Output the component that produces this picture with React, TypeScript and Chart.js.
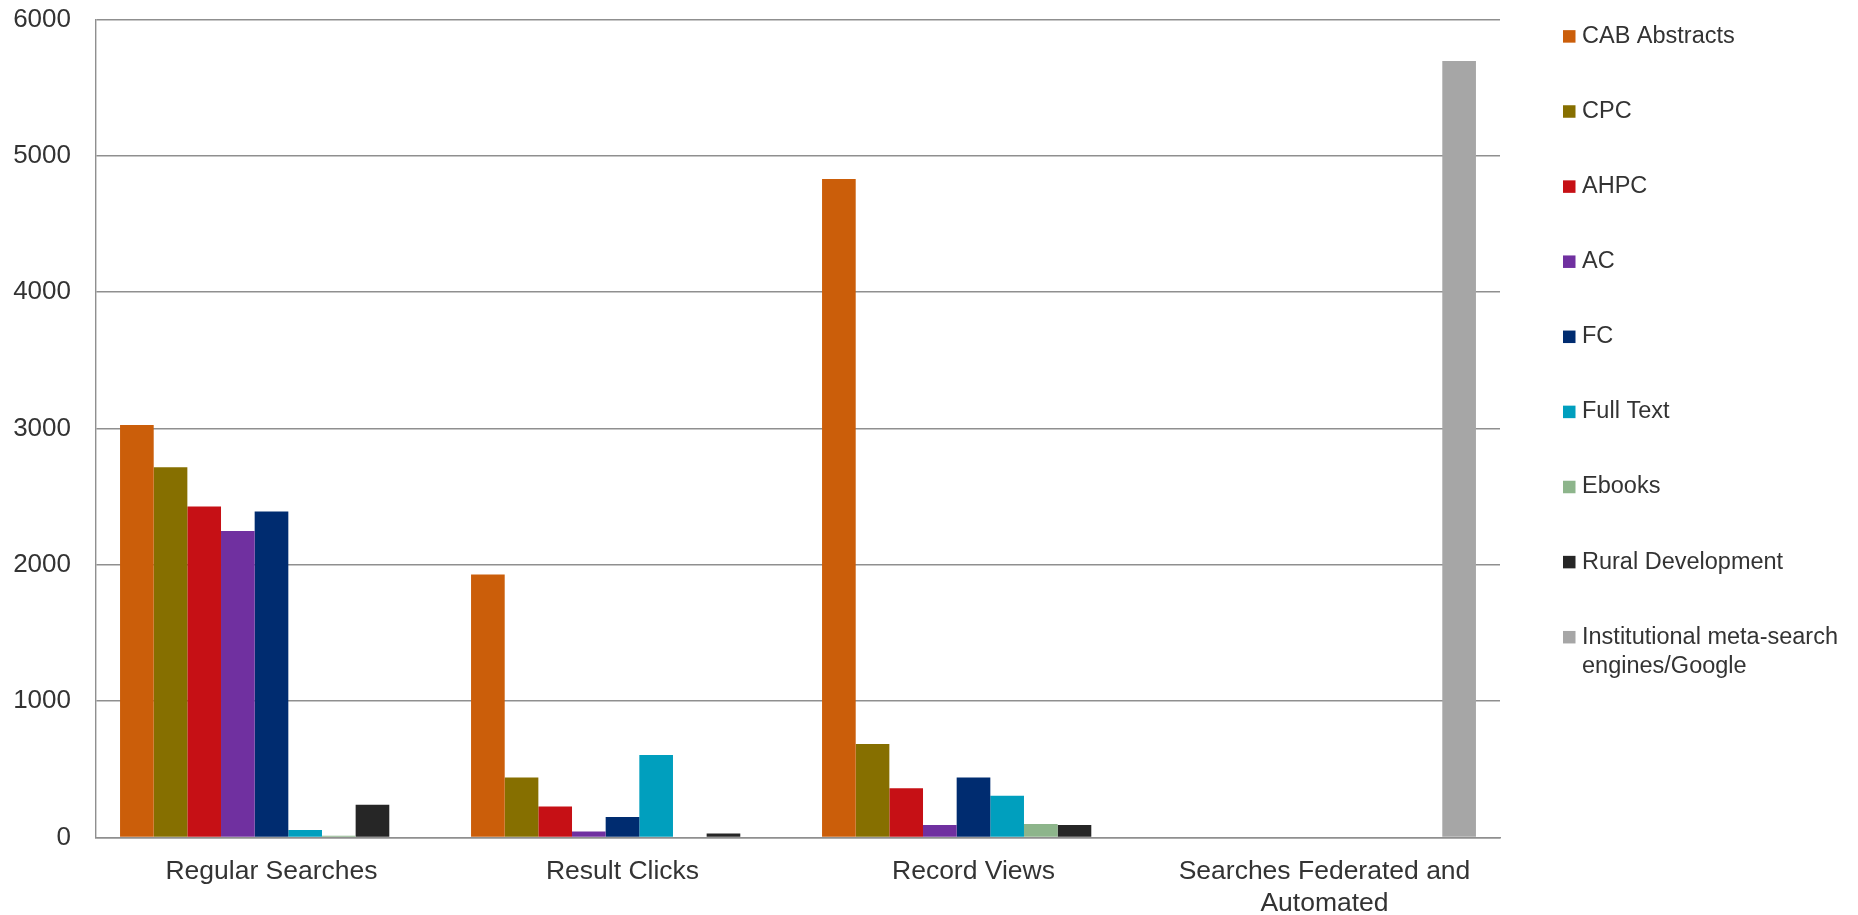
import React, { useEffect, useRef } from "react";
import { Chart, registerables } from "chart.js";

Chart.register(...registerables);

const categories: string[][] = [
  ["Regular Searches"],
  ["Result Clicks"],
  ["Record Views"],
  ["Searches Federated and", "Automated"],
];

const seriesNames = [
  "CAB Abstracts",
  "CPC",
  "AHPC",
  "AC",
  "FC",
  "Full Text",
  "Ebooks",
  "Rural Development",
  "Institutional meta-search engines/Google",
];

const seriesColors = [
  "#CB5E0A",
  "#866F00",
  "#C61015",
  "#7030A0",
  "#002C70",
  "#009FBE",
  "#8DB58B",
  "#262626",
  "#A6A6A6",
];

const cabAbstracts = [3025, 1930, 4830, 0];
const cpc = [2715, 440, 686, 0];
const ahpc = [2428, 228, 362, 0];
const ac = [2248, 44, 92, 0];
const fc = [2392, 151, 441, 0];
const fullText = [55, 605, 307, 0];
const ebooks = [12, 0, 99, 0];
const ruralDevelopment = [240, 30, 92, 0];
const institutional = [0, 0, 0, 5695];

const seriesValues = [cabAbstracts, cpc, ahpc, ac, fc, fullText, ebooks, ruralDevelopment, institutional];

const yTicks = [0, 1000, 2000, 3000, 4000, 5000, 6000];

const FONT = '"Liberation Sans", Arial, sans-serif';
const TEXT_COLOR = "#333333";
const GRID_COLOR = "#8f8f8f";

const legendPlugin = {
  id: "sideLegend",
  afterDraw(chart: any) {
    const ctx = chart.ctx as CanvasRenderingContext2D;
    const boxLeft = chart.chartArea.right + 63;
    const textLeft = boxLeft + 19;
    const firstY = 36.4;
    const step = 75.1;
    const box = 12.5;
    const maxWidth = chart.width - textLeft - 4;
    const lineH = 29;
    ctx.save();
    ctx.font = `23.5px ${FONT}`;
    ctx.textBaseline = "middle";
    ctx.textAlign = "left";
    chart.data.datasets.forEach((ds: any, i: number) => {
      const cy = firstY + i * step;
      ctx.fillStyle = ds.backgroundColor;
      ctx.fillRect(boxLeft, cy - box / 2, box, box);
      ctx.fillStyle = TEXT_COLOR;
      const words = String(ds.label).split(" ");
      const lines: string[] = [];
      let cur = "";
      words.forEach((w) => {
        const t = cur ? cur + " " + w : w;
        if (cur && ctx.measureText(t).width > maxWidth) {
          lines.push(cur);
          cur = w;
        } else {
          cur = t;
        }
      });
      if (cur) lines.push(cur);
      lines.forEach((ln, j) => ctx.fillText(ln, textLeft, cy + j * lineH));
    });
    ctx.restore();
  },
};

export default function App() {
  const canvasRef = useRef<HTMLCanvasElement | null>(null);

  useEffect(() => {
    if (!canvasRef.current) return;
    const chart = new Chart(canvasRef.current, {
      type: "bar",
      data: {
        labels: categories,
        datasets: seriesNames.map((name, i) => ({
          label: name,
          data: seriesValues[i],
          backgroundColor: seriesColors[i],
          borderWidth: 0,
          categoryPercentage: 0.863,
          barPercentage: 1,
        })),
      },
      options: {
        animation: false,
        responsive: true,
        maintainAspectRatio: false,
        layout: { padding: { left: 0, right: 358, top: 19.5, bottom: 0 } },
        plugins: {
          legend: { display: false },
          tooltip: { enabled: false },
          title: { display: false },
        },
        scales: {
          x: {
            grid: { display: false, drawTicks: false },
            border: { display: true, color: GRID_COLOR, width: 1.4 },
            ticks: {
              color: TEXT_COLOR,
              font: { family: FONT, size: 26.5, lineHeight: 1.2 },
              padding: 18,
              maxRotation: 0,
              autoSkip: false,
            },
            afterFit: (scale: any) => {
              scale.height = 77.5;
              scale.paddingLeft = 0;
              scale.paddingRight = 0;
            },
          },
          y: {
            min: 0,
            max: 6000,
            grid: { color: GRID_COLOR, lineWidth: 1.4, drawTicks: false },
            border: { display: true, color: GRID_COLOR, width: 1.4 },
            ticks: {
              stepSize: 1000,
              color: TEXT_COLOR,
              font: { family: FONT, size: 26 },
              padding: 25,
              callback: (v: any) => (yTicks.includes(Number(v)) ? String(v) : ""),
            },
            afterFit: (scale: any) => {
              scale.width = 96;
              scale.paddingTop = 0;
              scale.paddingBottom = 0;
            },
          },
        },
      },
      plugins: [legendPlugin],
    });
    return () => chart.destroy();
  }, []);

  return (
    <div style={{ position: "fixed", left: 0, top: 0, width: "1858px", height: "915px", background: "#ffffff" }}>
      <canvas ref={canvasRef} />
    </div>
  );
}
